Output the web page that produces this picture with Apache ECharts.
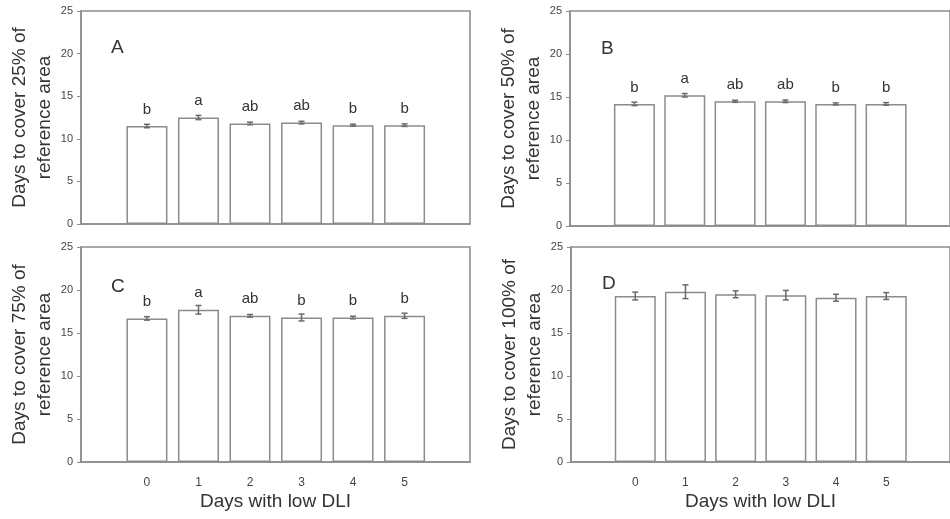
<!DOCTYPE html>
<html>
<head>
<meta charset="utf-8">
<script src="https://cdn.jsdelivr.net/npm/echarts@6/dist/echarts.min.js"></script>
<style>html,body{margin:0;padding:0;background:#fff}#c{width:950px;height:519px}</style>
</head>
<body>
<div id="c"></div>
<script>
const days = [0, 1, 2, 3, 4, 5];
const xTicks = [0, 1, 2, 3, 4, 5];
const yTicks = [0, 5, 10, 15, 20, 25];

const cover25 = [11.5, 12.5, 11.8, 11.9, 11.6, 11.6];
const err25 = [0.2, 0.25, 0.15, 0.15, 0.12, 0.15];
const letters25 = ['b', 'a', 'ab', 'ab', 'b', 'b'];

const cover50 = [14.2, 15.2, 14.5, 14.5, 14.2, 14.2];
const err50 = [0.2, 0.2, 0.12, 0.15, 0.12, 0.15];
const letters50 = ['b', 'a', 'ab', 'ab', 'b', 'b'];

const cover75 = [16.7, 17.7, 17.0, 16.8, 16.8, 17.0];
const err75 = [0.2, 0.5, 0.15, 0.4, 0.15, 0.3];
const letters75 = ['b', 'a', 'ab', 'b', 'b', 'b'];

const cover100 = [19.3, 19.8, 19.5, 19.4, 19.1, 19.3];
const err100 = [0.45, 0.8, 0.4, 0.55, 0.4, 0.4];
const letters100 = null;

const panels = [
  {tag: 'A', vals: cover25, errs: err25, letters: letters25, yName: 'Days to cover 25% of\nreference area'},
  {tag: 'B', vals: cover50, errs: err50, letters: letters50, yName: 'Days to cover 50% of\nreference area'},
  {tag: 'C', vals: cover75, errs: err75, letters: letters75, yName: 'Days to cover 75% of\nreference area'},
  {tag: 'D', vals: cover100, errs: err100, letters: letters100, yName: 'Days to cover 100% of\nreference area'}
];

const layout = [
  {left: 81, top: 11, width: 389, height: 213, bottomAxis: false, tagL: 106, tagT: 33},
  {left: 570, top: 11, width: 389, height: 215, bottomAxis: false, tagL: 596, tagT: 34},
  {left: 81, top: 247, width: 389, height: 215, bottomAxis: true, tagL: 106, tagT: 272},
  {left: 571, top: 247, width: 389, height: 215, bottomAxis: true, tagL: 597, tagT: 269}
];

const FONT = '"Liberation Sans", Arial, sans-serif';
const AXC = '#8c8c8c';
const TXT = '#333';
const X_MIN = -1.28, X_MAX = 6.27;

const grid = [], xAxis = [], yAxis = [], series = [], title = [];
panels.forEach((p, i) => {
  const L = layout[i];
  grid.push({left: L.left, top: L.top, width: L.width, height: L.height, show: true,
    borderColor: AXC, borderWidth: 1.5, backgroundColor: '#fff', containLabel: false});
  xAxis.push({type: 'value', gridIndex: i, min: X_MIN, max: X_MAX,
    axisLine: {show: true, onZero: false, lineStyle: {color: AXC, width: 1.5}},
    axisTick: {show: false},
    splitLine: {show: false},
    axisLabel: {show: L.bottomAxis, customValues: xTicks, margin: 15, fontSize: 12, color: '#444', fontFamily: FONT},
    name: L.bottomAxis ? 'Days with low DLI' : '', nameLocation: 'middle', nameGap: 30,
    nameTextStyle: {fontSize: 19, color: TXT, fontFamily: FONT}
  });
  yAxis.push({type: 'value', gridIndex: i, min: 0, max: 25, interval: 5,
    axisLine: {show: true, onZero: false, lineStyle: {color: AXC, width: 1.5}},
    axisTick: {show: true, length: 4, lineStyle: {color: AXC}},
    splitLine: {show: false},
    axisLabel: {margin: 8, fontSize: 11, color: '#444', fontFamily: FONT},
    name: p.yName, nameLocation: 'middle', nameGap: 24, nameRotate: 90,
    nameTextStyle: {fontSize: 19, color: TXT, fontFamily: FONT, lineHeight: 25}
  });
  title.push({text: p.tag, left: L.tagL, top: L.tagT,
    textStyle: {fontSize: 19, fontWeight: 'normal', color: TXT, fontFamily: FONT}});
  series.push({type: 'bar', xAxisIndex: i, yAxisIndex: i, barWidth: 41,
    data: days.map((d, k) => [d, p.vals[k]]),
    itemStyle: {color: '#fff', borderColor: AXC, borderWidth: 1.5},
    label: {show: !!p.letters, position: 'top', distance: 9, fontSize: 15, color: TXT, fontFamily: FONT,
      formatter: (q) => p.letters ? p.letters[q.dataIndex] : ''},
    silent: true, animation: false
  });
  series.push({type: 'custom', xAxisIndex: i, yAxisIndex: i,
    data: days.map((d, k) => [d, p.vals[k], p.errs[k]]),
    renderItem: function (params, api) {
      const x = api.value(0), y = api.value(1), e = api.value(2);
      const t = api.coord([x, y + e]);
      const b = api.coord([x, y - e]);
      const hw = 3;
      const st = {stroke: '#6a6a6a', lineWidth: 1.5};
      return {type: 'group', children: [
        {type: 'line', shape: {x1: t[0], y1: t[1], x2: b[0], y2: b[1]}, style: st},
        {type: 'line', shape: {x1: t[0] - hw, y1: t[1], x2: t[0] + hw, y2: t[1]}, style: st},
        {type: 'line', shape: {x1: b[0] - hw, y1: b[1], x2: b[0] + hw, y2: b[1]}, style: st}
      ]};
    },
    silent: true, animation: false, z: 3
  });
});

const chart = echarts.init(document.getElementById('c'), null, {renderer: 'canvas'});
chart.setOption({backgroundColor: '#fff', animation: false, title, grid, xAxis, yAxis, series});
</script>
</body>
</html>
